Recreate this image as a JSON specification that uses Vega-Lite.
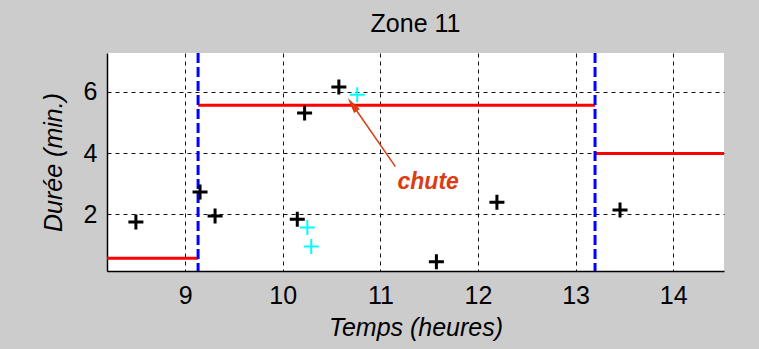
{
  "$schema": "https://vega.github.io/schema/vega-lite/v6.json",
  "autosize": {"type": "none"},
  "width": 617,
  "height": 218,
  "padding": {"left": 107, "top": 53, "right": 35, "bottom": 78},
  "background": "#cccccc",
  "title": {"text": "Zone 11", "fontSize": 25, "font": "Liberation Sans", "fontWeight": "normal", "color": "#000000", "offset": 15},
  "config": {
    "view": {"fill": "#ffffff", "stroke": null},
    "axis": {
      "grid": true, "gridColor": "#111111", "gridDash": [4, 4], "gridWidth": 1, "gridOpacity": 1,
      "domainColor": "#000000", "domainWidth": 1.5,
      "ticks": false, "tickSize": 0,
      "labelFont": "Liberation Sans", "labelFontSize": 25, "labelColor": "#000000",
      "titleFont": "Liberation Sans", "titleFontSize": 25, "titleFontStyle": "italic", "titleFontWeight": "normal", "titleColor": "#000000"
    },
    "axisX": {"labelPadding": 12, "titlePadding": 7, "labelFlush": false},
    "axisY": {"labelPadding": 10, "titlePadding": 17, "labelFlush": false}
  },
  "datasets": {
    "steps": [
      {"t": 8.2, "t1": 9.133, "d": 0.566},
      {"t": 9.133, "t1": 13.199, "d": 5.56},
      {"t": 13.199, "t1": 14.52, "d": 3.99}
    ],
    "splits": [{"t": 9.133}, {"t": 13.199}],
    "black": [
      {"t": 8.496, "d": 1.75},
      {"t": 9.153, "d": 2.73},
      {"t": 9.307, "d": 1.945},
      {"t": 10.149, "d": 1.84},
      {"t": 10.224, "d": 5.31},
      {"t": 10.575, "d": 6.16},
      {"t": 11.574, "d": 0.45},
      {"t": 12.194, "d": 2.4},
      {"t": 13.455, "d": 2.14}
    ],
    "cyan": [
      {"t": 10.763, "d": 5.91},
      {"t": 10.252, "d": 1.57},
      {"t": 10.292, "d": 0.95}
    ],
    "arrow": [{"t": 11.154, "d": 3.56, "t1": 10.713, "d1": 5.59}],
    "head": [{"t": 10.713, "d": 5.59}],
    "label": [{"t": 11.49, "d": 2.815, "text": "chute"}]
  },
  "layer": [
    {
      "data": {"name": "steps"},
      "mark": {"type": "rule", "color": "#ff0000", "strokeWidth": 3},
      "encoding": {
        "x": {"field": "t", "type": "quantitative", "scale": {"domain": [8.2, 14.52], "nice": false, "zero": false}, "axis": {"title": "Temps (heures)", "values": [9, 10, 11, 12, 13, 14]}},
        "x2": {"field": "t1"},
        "y": {"field": "d", "type": "quantitative", "scale": {"domain": [0.152, 7.27], "nice": false, "zero": false}, "axis": {"title": "Durée (min.)", "values": [2, 4, 6]}}
      }
    },
    {
      "data": {"name": "splits"},
      "mark": {"type": "rule", "color": "#0000ff", "strokeWidth": 3, "strokeDash": [10, 4]},
      "encoding": {
        "x": {"field": "t", "type": "quantitative", "scale": {"domain": [8.2, 14.52], "nice": false, "zero": false}, "axis": {"title": "Temps (heures)", "values": [9, 10, 11, 12, 13, 14]}}
      }
    },
    {
      "data": {"name": "black"},
      "mark": {"type": "point", "shape": "M-1,0L1,0M0,-1L0,1", "filled": false, "stroke": "#000000", "strokeWidth": 3, "size": 225, "opacity": 1},
      "encoding": {
        "x": {"field": "t", "type": "quantitative", "scale": {"domain": [8.2, 14.52], "nice": false, "zero": false}, "axis": {"title": "Temps (heures)", "values": [9, 10, 11, 12, 13, 14]}},
        "y": {"field": "d", "type": "quantitative", "scale": {"domain": [0.152, 7.27], "nice": false, "zero": false}, "axis": {"title": "Durée (min.)", "values": [2, 4, 6]}}
      }
    },
    {
      "data": {"name": "cyan"},
      "mark": {"type": "point", "shape": "M-1,0L1,0M0,-1L0,1", "filled": false, "stroke": "#00ffff", "strokeWidth": 2, "size": 225, "opacity": 1},
      "encoding": {
        "x": {"field": "t", "type": "quantitative", "scale": {"domain": [8.2, 14.52], "nice": false, "zero": false}, "axis": {"title": "Temps (heures)", "values": [9, 10, 11, 12, 13, 14]}},
        "y": {"field": "d", "type": "quantitative", "scale": {"domain": [0.152, 7.27], "nice": false, "zero": false}, "axis": {"title": "Durée (min.)", "values": [2, 4, 6]}}
      }
    },
    {
      "data": {"name": "arrow"},
      "mark": {"type": "rule", "color": "#dc3c14", "strokeWidth": 1.5},
      "encoding": {
        "x": {"field": "t", "type": "quantitative", "scale": {"domain": [8.2, 14.52], "nice": false, "zero": false}, "axis": {"title": "Temps (heures)", "values": [9, 10, 11, 12, 13, 14]}},
        "x2": {"field": "t1"},
        "y": {"field": "d", "type": "quantitative", "scale": {"domain": [0.152, 7.27], "nice": false, "zero": false}, "axis": {"title": "Durée (min.)", "values": [2, 4, 6]}},
        "y2": {"field": "d1"}
      }
    },
    {
      "data": {"name": "head"},
      "mark": {"type": "point", "shape": "M0,-1L-0.45,1L0.45,1Z", "filled": true, "fill": "#dc3c14", "stroke": null, "size": 256, "angle": 324.8, "opacity": 1},
      "encoding": {
        "x": {"field": "t", "type": "quantitative", "scale": {"domain": [8.2, 14.52], "nice": false, "zero": false}, "axis": {"title": "Temps (heures)", "values": [9, 10, 11, 12, 13, 14]}},
        "y": {"field": "d", "type": "quantitative", "scale": {"domain": [0.152, 7.27], "nice": false, "zero": false}, "axis": {"title": "Durée (min.)", "values": [2, 4, 6]}}
      }
    },
    {
      "data": {"name": "label"},
      "mark": {"type": "text", "font": "Liberation Sans", "fontSize": 23, "fontWeight": "bold", "fontStyle": "italic", "color": "#dc3c14", "align": "center", "baseline": "alphabetic"},
      "encoding": {
        "x": {"field": "t", "type": "quantitative", "scale": {"domain": [8.2, 14.52], "nice": false, "zero": false}, "axis": {"title": "Temps (heures)", "values": [9, 10, 11, 12, 13, 14]}},
        "y": {"field": "d", "type": "quantitative", "scale": {"domain": [0.152, 7.27], "nice": false, "zero": false}, "axis": {"title": "Durée (min.)", "values": [2, 4, 6]}},
        "text": {"field": "text", "type": "nominal"}
      }
    }
  ]
}
